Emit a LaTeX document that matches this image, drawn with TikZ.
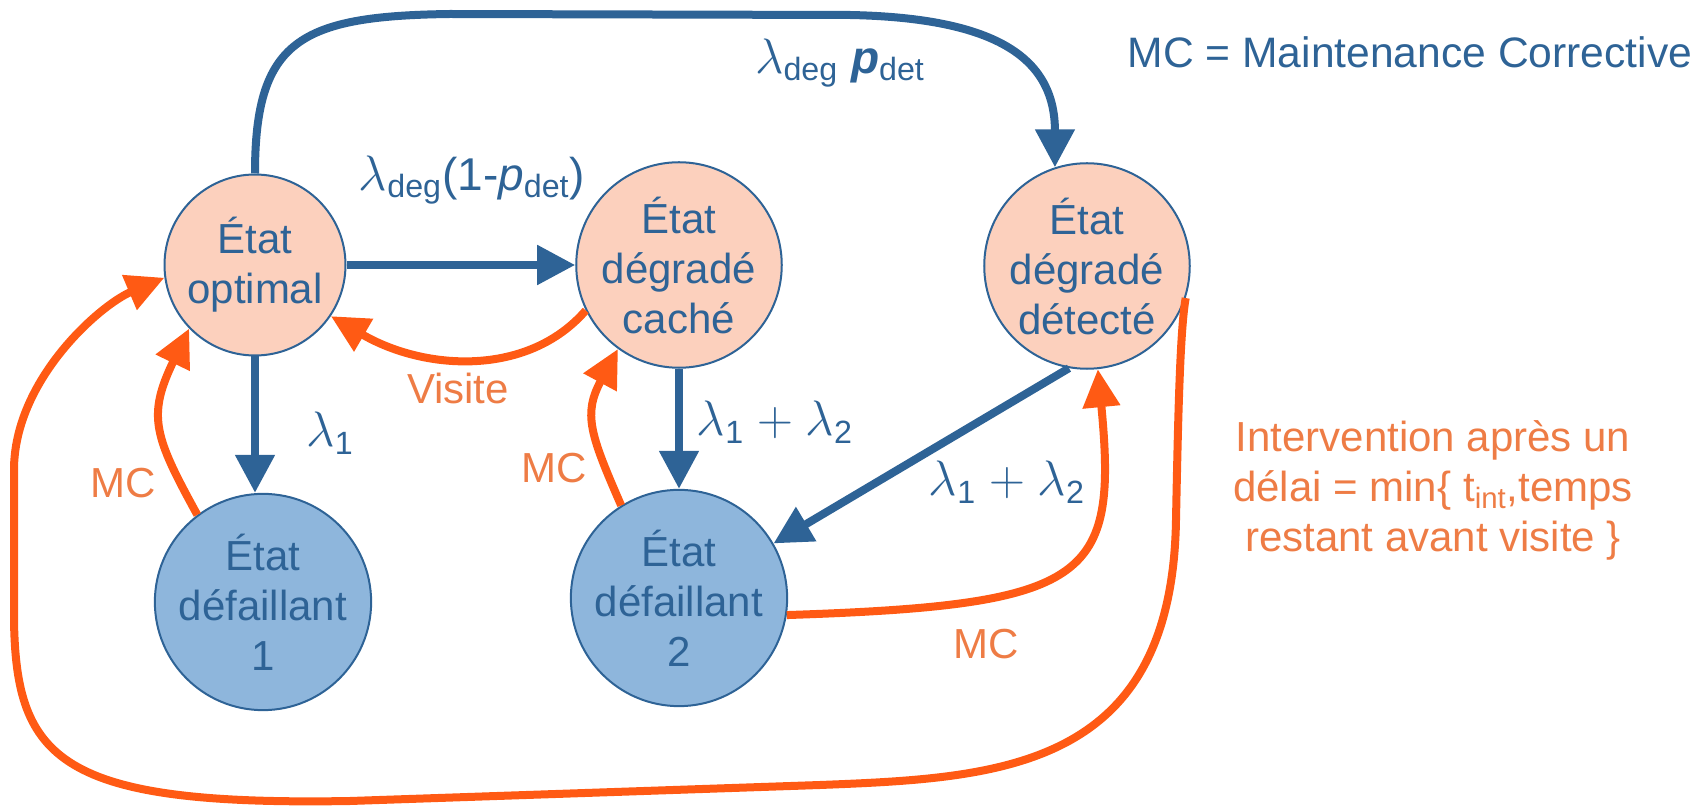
\documentclass[tikz,border=0pt]{standalone}
\usepackage{fontspec}
\setmainfont{Liberation Sans}
\usetikzlibrary{arrows.meta}

\definecolor{bleu}{HTML}{2E6396}
\definecolor{rose}{HTML}{FCD0BD}
\definecolor{bleuclair}{HTML}{8EB6DC}
\definecolor{orangefl}{HTML}{FF5A14}
\definecolor{orangetx}{HTML}{EE7C45}

\newcommand{\lam}{{\fontsize{26}{26}\selectfont$\lambda$}}

\tikzset{
    etat/.style={circle, draw=bleu, line width=1pt, minimum size=90.5pt, inner sep=0pt,
        align=center, text=bleu, font=\fontsize{21}{25}\selectfont},
    sain/.style={etat, fill=rose},
    panne/.style={etat, fill=bleuclair},
    trans/.style={draw=bleu, line width=4pt, -{Triangle[length=19pt,width=19pt]}},
    repar/.style={draw=orangefl, line width=4pt, -{Triangle[length=19pt,width=18pt]}},
    taux/.style={text=bleu, font=\fontsize{23}{27}\selectfont, inner sep=1pt},
    action/.style={text=orangetx, font=\fontsize{21}{25}\selectfont, inner sep=1pt, align=center}
}

\begin{document}
\begin{tikzpicture}[x=0.5pt, y=-0.5pt]
    \useasboundingbox (0,0) rectangle (1705,807);

    % etats du composant
    \node[sain] (opt) at (255,265) {État\\optimal};
    \node[sain] (cache) at (679,265) {État\\dégradé\\caché};
    \node[sain] (detecte) at (1087,266) {État\\dégradé\\détecté};
    \node[panne] (def1) at (263,602) {État\\défaillant\\1};
    \node[panne] (def2) at (679,598) {État\\défaillant\\2};

    % degradations et pannes
    \draw[trans] (opt.north) .. controls (255,40) and (300,16) .. (450,14) -- (850,15)
        .. controls (1000,18) and (1055,60) .. (detecte.108);
    \draw[trans] (opt.east) -- (cache.west);
    \draw[trans] (opt.south) -- (opt.south |- def1.north);
    \draw[trans] (cache.south) -- (def2.north);
    \draw[trans] (detecte.-100) -- (def2.30);

    % maintenances
    \draw[repar] (cache.206) .. controls (528,377) and (425,371) .. (opt.-34);
    \draw[repar] (def1.127) .. controls (154,436) and (147,416) .. (opt.224);
    \draw[repar] (def2.122) .. controls (590,434) and (583,414) .. (cache.234);
    \draw[repar] (def2.-9) .. controls (1090,605) and (1118,580) .. (detecte.-84);
    \draw[repar] (detecte.-18) .. controls (1180,330) and (1178,420) .. (1176,520)
        .. controls (1172,770) and (1000,778) .. (820,785) -- (350,801)
        .. controls (60,806) and (16,760) .. (14,620) -- (14,470)
        .. controls (14,380) and (100,305) .. (opt.188);

    % taux de transition
    \node[taux] (tdet) at (840,63) {\lam\textsubscript{deg} \textbf{\textit{p}}\textsubscript{det}};
    \node[taux] (tcache) at (472,180) {\lam\textsubscript{deg}(1-\textit{p}\textsubscript{det})};
    \node[taux] (tun) at (330,433) {\lam\textsubscript{1}};
    \node[taux] (tdeux) at (775,422) {\lam\textsubscript{1} $+$ \lam\textsubscript{2}};
    \node[taux] (ttrois) at (1007,482) {\lam\textsubscript{1} $+$ \lam\textsubscript{2}};
    \node[text=bleu, font=\fontsize{21.3}{25}\selectfont] (legende) at (1410,52) {MC = Maintenance Corrective};

    % actions de maintenance
    \node[action] (visite) at (458,388) {Visite};
    \node[action] (mcun) at (123,483) {MC};
    \node[action] (mcdeux) at (554,468) {MC};
    \node[action] (mctrois) at (986,644) {MC};
    \node[action] (delai) at (1433,490) {Intervention après un\\délai = min\{ t\textsubscript{int},temps\\restant avant visite \}};
\end{tikzpicture}
\end{document}
